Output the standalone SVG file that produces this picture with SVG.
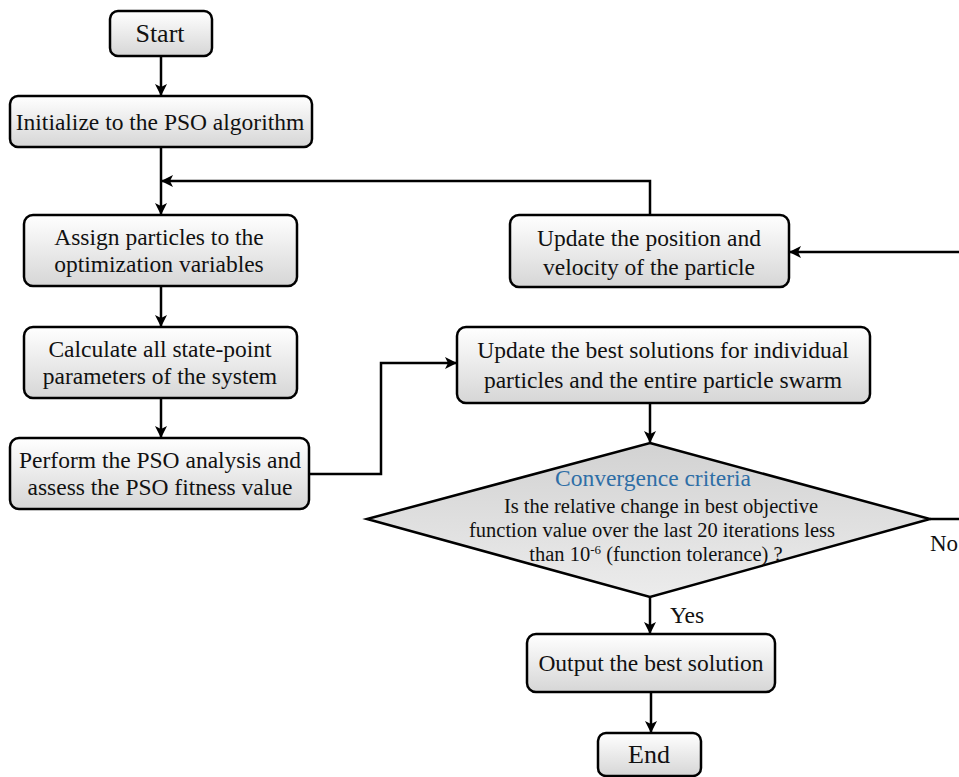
<svg xmlns="http://www.w3.org/2000/svg" width="959" height="777" viewBox="0 0 959 777" font-family="Liberation Serif, Times New Roman, serif">
<style>
.box{stroke:#000;stroke-width:2.5;fill:url(#g)}
.t{font-size:23.5px;fill:#111;text-anchor:middle}
.s{font-size:20.5px;fill:#111;text-anchor:middle}
.c{stroke:#000;stroke-width:2.5;fill:none}
</style>
<defs>
<linearGradient id="g" x1="0" y1="0" x2="0" y2="1">
<stop offset="0" stop-color="#ffffff"/>
<stop offset="1" stop-color="#d6d6d6"/>
</linearGradient>
<linearGradient id="gd" x1="0" y1="0" x2="0" y2="1">
<stop offset="0" stop-color="#d2d2d2"/>
<stop offset="1" stop-color="#ececec"/>
</linearGradient>
<marker id="a" viewBox="0 0 12 12" refX="11" refY="6" markerWidth="12" markerHeight="12" markerUnits="userSpaceOnUse" orient="auto">
<path d="M0,0 L12,6 L0,12 L3,6 Z" fill="#000"/>
</marker>
</defs>
<rect width="959" height="777" fill="#fff"/>
<g id="connectors">
<path class="c" d="M161,56 V95" marker-end="url(#a)"/>
<path class="c" d="M161,147 V214" marker-end="url(#a)"/>
<path class="c" d="M650,215 V181 H162" marker-end="url(#a)"/>
<path class="c" d="M161,286 V326" marker-end="url(#a)"/>
<path class="c" d="M161,398 V437" marker-end="url(#a)"/>
<path class="c" d="M309,474 H381 V363 H456" marker-end="url(#a)"/>
<path class="c" d="M650,403 V442" marker-end="url(#a)"/>
<path class="c" d="M650,597 V633" marker-end="url(#a)"/>
<path class="c" d="M651,692 V732" marker-end="url(#a)"/>
<path class="c" d="M930,519 H970 V252 H790" marker-end="url(#a)"/>
<text class="t" x="687" y="623">Yes</text>
<text class="t" x="930" y="551" style="text-anchor:start;font-size:23px">No</text>
</g>
<g id="start"><rect class="box" x="110" y="11" width="102" height="45" rx="8"/><text class="t" x="160" y="42" style="font-size:26px">Start</text></g>
<g id="init"><rect class="box" x="10" y="96" width="302" height="51" rx="8"/><text class="t" x="160" y="130">Initialize to the PSO algorithm</text></g>
<g id="assign"><rect class="box" x="24" y="215" width="273" height="71" rx="9"/><text class="t" x="159" y="245">Assign particles to the</text><text class="t" x="159" y="272">optimization variables</text></g>
<g id="calc"><rect class="box" x="24" y="327" width="273" height="71" rx="9"/><text class="t" x="160" y="357">Calculate all state-point</text><text class="t" x="160" y="384">parameters of the system</text></g>
<g id="perform"><rect class="box" x="10" y="438" width="299" height="71" rx="9"/><text class="t" x="160" y="468">Perform the PSO analysis and</text><text class="t" x="160" y="495">assess the PSO fitness value</text></g>
<g id="updpos"><rect class="box" x="510" y="215" width="279" height="72" rx="9"/><text class="t" x="649" y="246">Update the position and</text><text class="t" x="649" y="275">velocity of the particle</text></g>
<g id="updbest"><rect class="box" x="457" y="327" width="413" height="76" rx="9"/><text class="t" x="663" y="358">Update the best solutions for individual</text><text class="t" x="663" y="388">particles and the entire particle swarm</text></g>
<g id="decision">
<polygon points="650,443 930,519 650,597 367,519" fill="url(#gd)" stroke="#000" stroke-width="2.5"/>
<text class="t" x="653" y="486" style="fill:#2e6ea6">Convergence criteria</text>
<text class="s" x="661" y="513">Is the relative change in best objective</text>
<text class="s" x="652" y="537">function value over the last 20 iterations less</text>
<text class="s" x="656" y="561">than 10<tspan dy="-7" style="font-size:13px">-6</tspan><tspan dy="7"> (function tolerance) ?</tspan></text>
</g>
<g id="output"><rect class="box" x="527" y="634" width="248" height="58" rx="9"/><text class="t" x="651" y="671">Output the best solution</text></g>
<g id="end"><rect class="box" x="598" y="733" width="103" height="43" rx="8"/><text class="t" x="649" y="763" style="font-size:26px">End</text></g>
</svg>
